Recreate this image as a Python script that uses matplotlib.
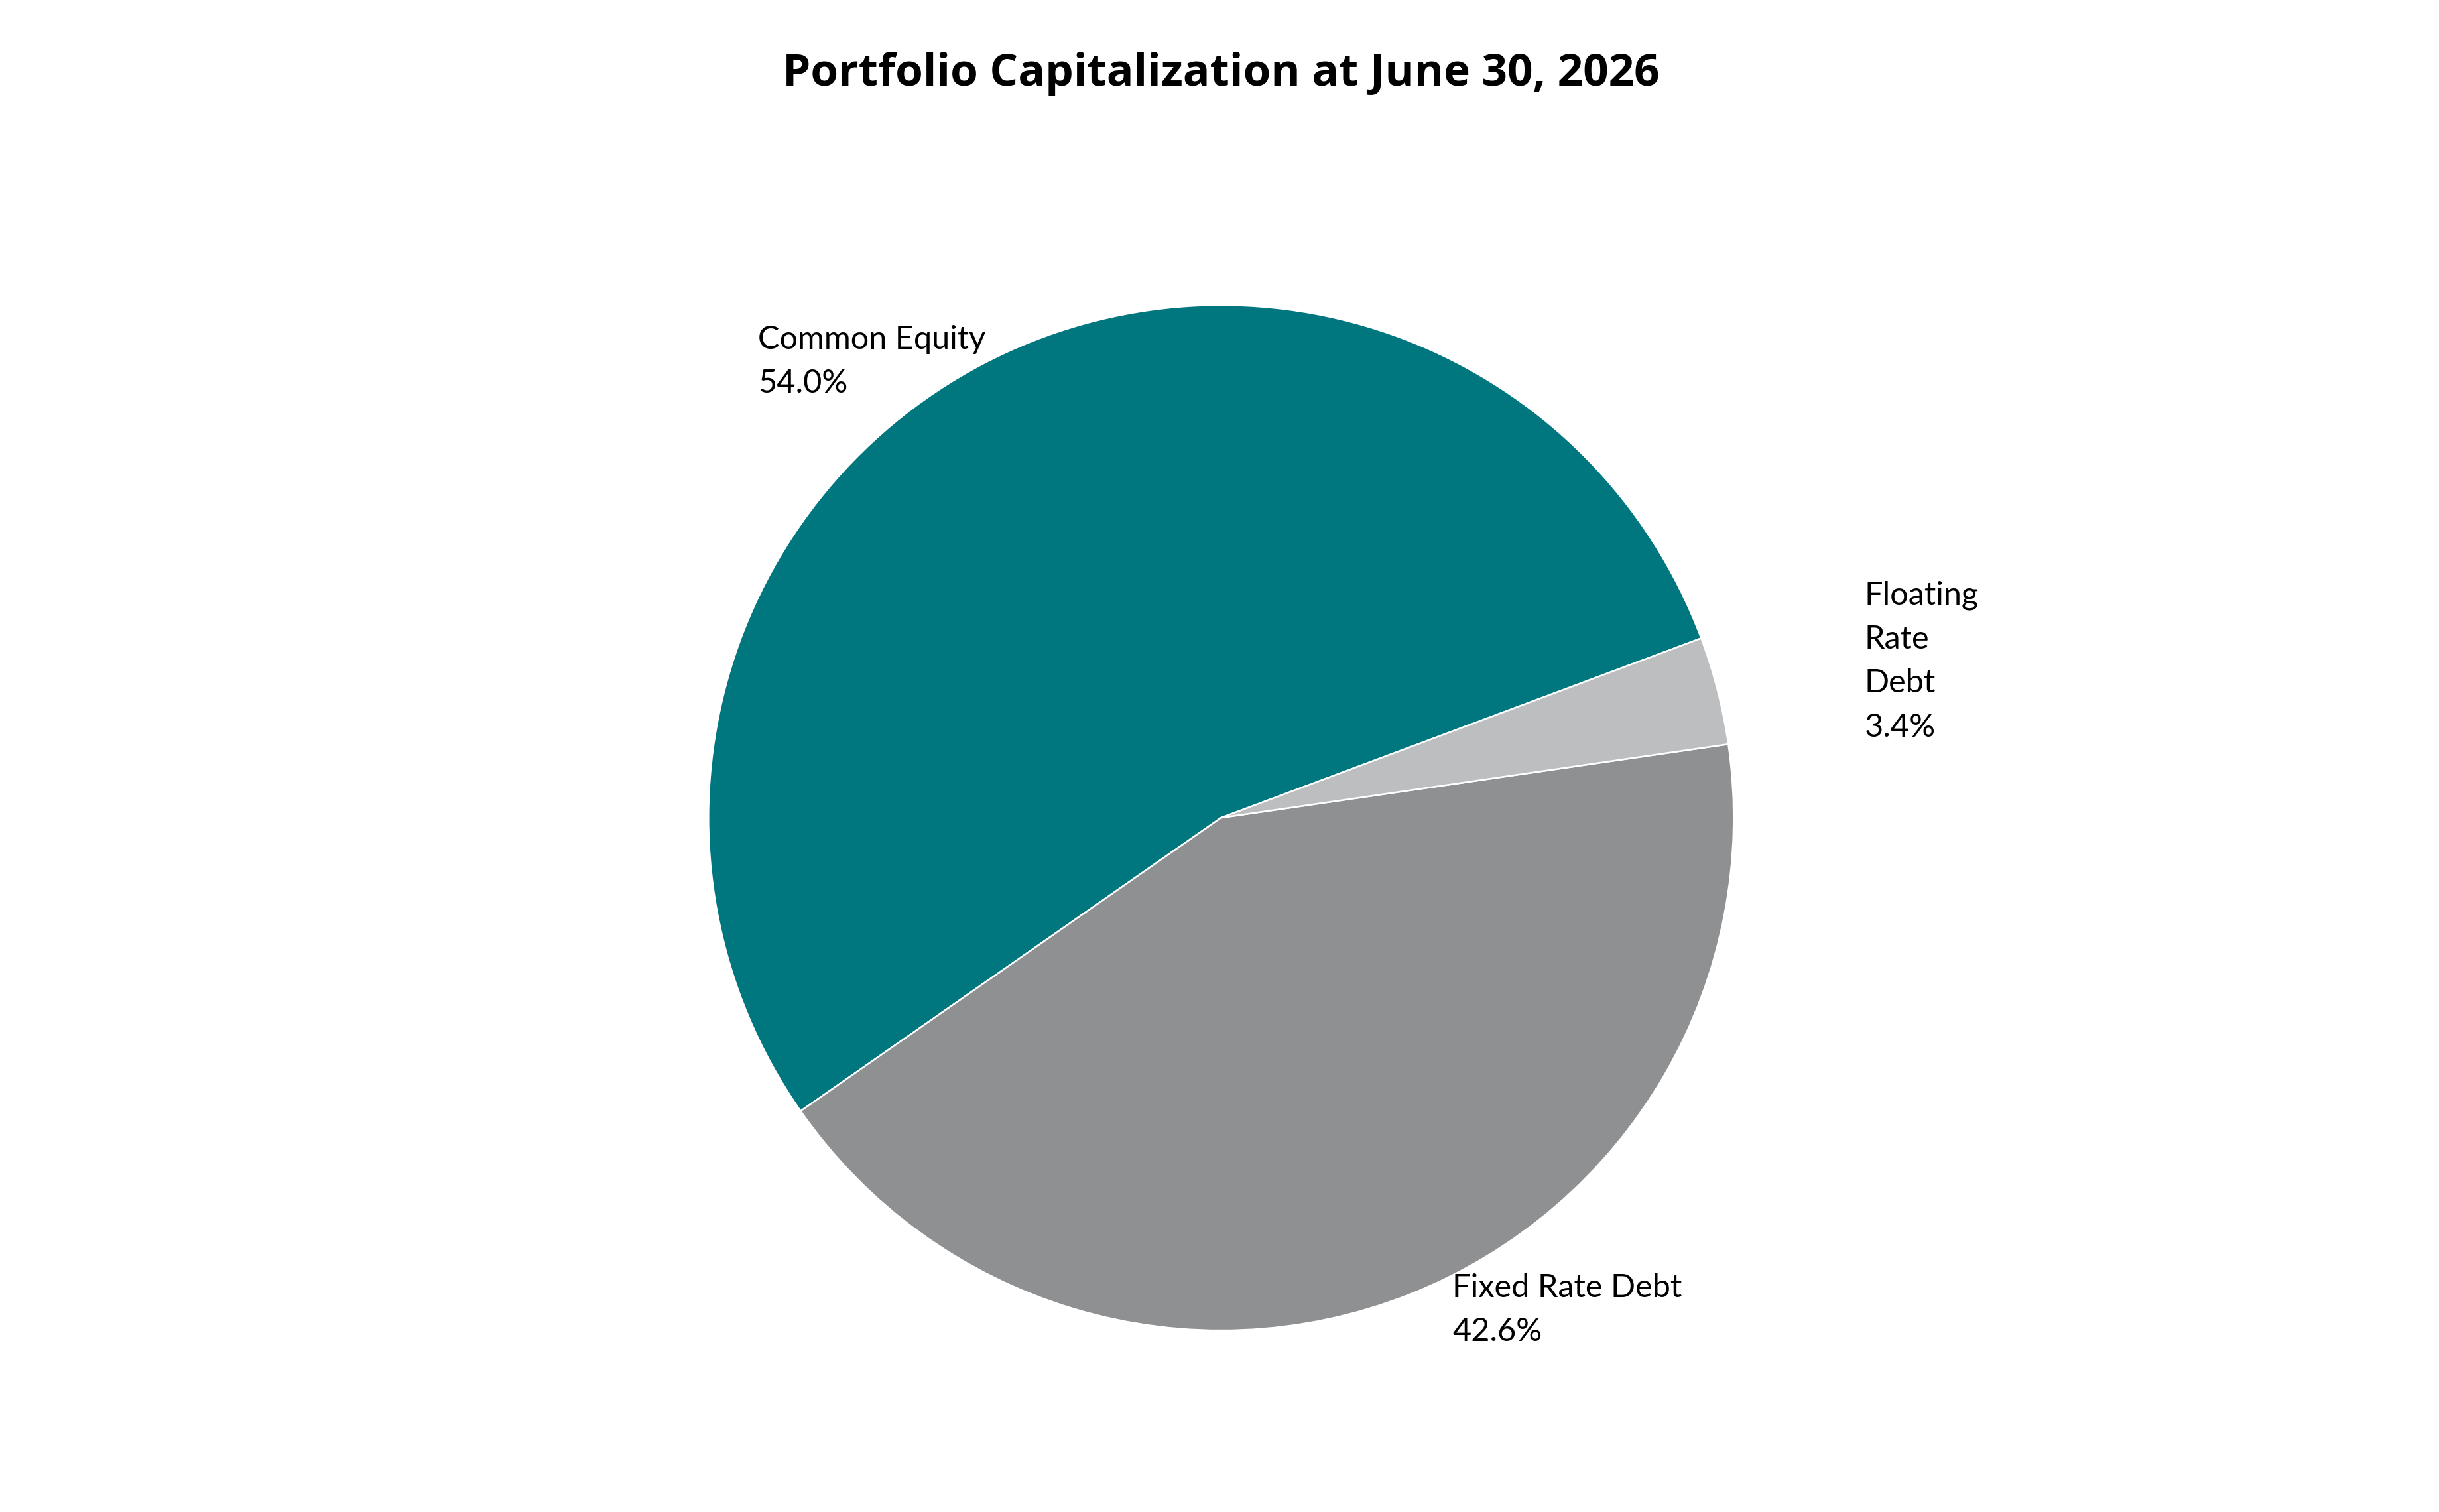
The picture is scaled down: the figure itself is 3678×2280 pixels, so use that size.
import matplotlib.pyplot as plt

title = 'Portfolio Capitalization at June 30, 2026'
categories = ['Common Equity', 'Fixed Rate Debt', 'Floating\nRate\nDebt']
shares = [54.0, 42.6, 3.4]
colors = ['#00767e', '#8f9092', '#bdbec0']

# label anchors (top-left corner) in pie-radius units, as Excel put them
label_pos = [(-0.903, 0.962), (0.451, -0.888), (1.255, 0.463)]

fig = plt.figure(figsize=(18.39, 11.4), dpi=200)
ax = fig.add_axes([0, 0, 1, 1])

ax.pie(shares, colors=colors, startangle=20.5, counterclock=True,
       wedgeprops=dict(edgecolor='white', linewidth=0.9))
ax.set_xlim(-2.382, 2.376)
ax.set_ylim(-1.354, 1.595)
ax.set_aspect('equal')
ax.axis('off')

for name, val, (x, y) in zip(categories, shares, label_pos):
    ax.text(x, y, f'{name}\n{val:.1f}%', ha='left', va='top',
            fontsize=17.5, family=['Lato', 'DejaVu Sans'],
            linespacing=1.62, color='black')

fig.text(0.5007, 0.951, title, ha='center', va='center', fontsize=24.3,
         fontweight='bold', family=['Open Sans', 'DejaVu Sans'])

fig.savefig('out.png', dpi=200)
